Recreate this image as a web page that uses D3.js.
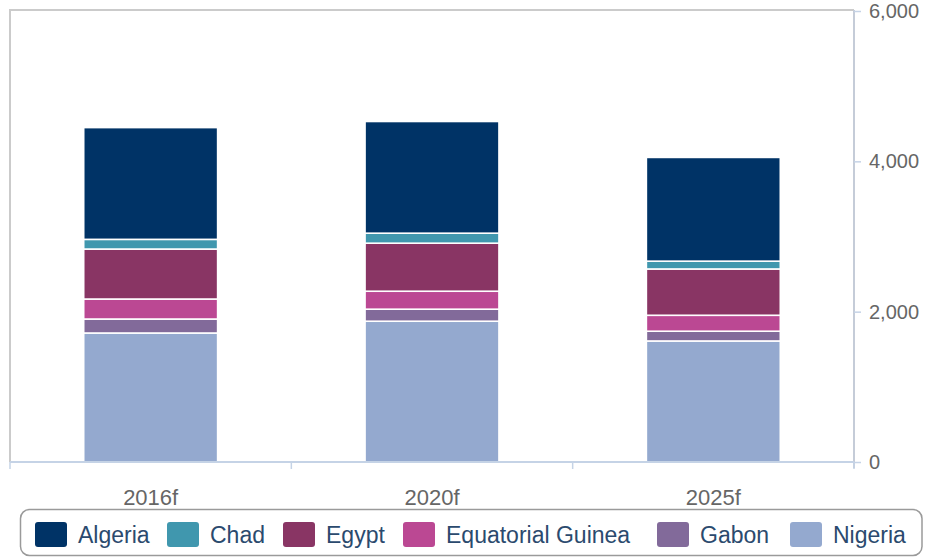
<!DOCTYPE html>
<html>
<head>
<meta charset="utf-8">
<script src="https://cdn.jsdelivr.net/npm/d3@7"></script>
<style>
  html, body { margin: 0; padding: 0; background: #fff; }
  svg { display: block; font-family: "Liberation Sans", Arial, sans-serif; }
</style>
</head>
<body>
<svg id="chart" width="930" height="558"></svg>
<script>
const categories = ["2016f", "2020f", "2025f"];
const seriesNames = ["Nigeria", "Gabon", "Equatorial Guinea", "Egypt", "Chad", "Algeria"];
const nigeria = [1716, 1873, 1610];
const gabon = [186, 160, 130];
const equatorialGuinea = [266, 239, 212];
const egypt = [665, 639, 616];
const chad = [129, 133, 104];
const algeria = [1487, 1486, 1380];
const yTicks = [0, 2000, 4000, 6000];
const legendOrder = ["Algeria", "Chad", "Egypt", "Equatorial Guinea", "Gabon", "Nigeria"];
const colors = {
  "Algeria": "#003366",
  "Chad": "#4097ae",
  "Egypt": "#893564",
  "Equatorial Guinea": "#bb4893",
  "Gabon": "#826a9a",
  "Nigeria": "#94a9cf"
};

const valuesBySeries = {
  "Nigeria": nigeria,
  "Gabon": gabon,
  "Equatorial Guinea": equatorialGuinea,
  "Egypt": egypt,
  "Chad": chad,
  "Algeria": algeria
};
const table = categories.map((c, i) => {
  const row = { category: c };
  seriesNames.forEach(s => row[s] = valuesBySeries[s][i]);
  return row;
});

const svg = d3.select("#chart");
const pLeft = 10, pRight = 854, pTop = 11, pBottom = 462;

const x = d3.scaleBand().domain(categories).range([pLeft, pRight]).padding(0);
const y = d3.scaleLinear().domain([0, 6000]).range([pBottom, pTop]);
const barW = x.step() * 0.476;

// plot frame (top & left)
svg.append("path")
  .attr("d", `M${pLeft},${pBottom} V${pTop - 1} H${pRight}`)
  .attr("fill", "none")
  .attr("stroke", "#cbcbcb")
  .attr("stroke-width", 2);

const stack = d3.stack().keys(seriesNames)(table);

svg.append("g").selectAll("g")
  .data(stack)
  .join("g")
  .attr("fill", d => colors[d.key])
  .selectAll("rect")
  .data(d => d)
  .join("rect")
  .attr("x", d => x(d.data.category) + (x.step() - barW) / 2)
  .attr("width", barW)
  .attr("y", d => y(d[1]))
  .attr("height", d => y(d[0]) - y(d[1]))
  .attr("stroke", "#fff")
  .attr("stroke-width", 1.6);

// right y axis
const yAxis = d3.axisRight(y).tickValues(yTicks).tickSize(7).tickPadding(8)
  .tickFormat(d3.format(","));
const gy = svg.append("g").attr("transform", `translate(${pRight},0)`).call(yAxis);
gy.select(".domain").attr("stroke", "#c5ccd8").attr("stroke-width", 2)
  .attr("d", `M0,${pTop - 1}V${pBottom + 6}`);
gy.selectAll(".tick line").attr("stroke", "#c5d3e6").attr("stroke-width", 1.5);
gy.selectAll(".tick text").attr("fill", "#666").attr("font-size", 20)
  .attr("font-family", "Liberation Sans, Arial, sans-serif");

// bottom x axis
const xEdges = d3.scaleLinear().domain([0, categories.length]).range([pLeft, pRight]);
const gx = svg.append("g").attr("transform", `translate(0,${pBottom})`);
gx.append("line").attr("x1", pLeft).attr("x2", pRight).attr("y1", 0).attr("y2", 0)
  .attr("stroke", "#c5d3e6").attr("stroke-width", 2);
gx.selectAll("line.edge").data(d3.range(categories.length + 1)).join("line")
  .attr("class", "edge")
  .attr("x1", d => xEdges(d)).attr("x2", d => xEdges(d))
  .attr("y1", 0).attr("y2", 7)
  .attr("stroke", "#c5d3e6").attr("stroke-width", 1.5);
gx.selectAll("text").data(categories).join("text")
  .attr("x", d => x(d) + x.bandwidth() / 2)
  .attr("y", 43)
  .attr("text-anchor", "middle")
  .attr("fill", "#666")
  .attr("font-size", 22)
  .text(d => d);

// legend
const lg = svg.append("g");
lg.append("rect")
  .attr("x", 20.5).attr("y", 509.5).attr("width", 901.5).attr("height", 46)
  .attr("rx", 9).attr("fill", "#fff").attr("stroke", "#9a9a9a").attr("stroke-width", 1.5);
const legendX = [35, 167, 283, 403, 657, 790];
legendOrder.forEach((name, i) => {
  const g = lg.append("g").attr("transform", `translate(${legendX[i]},522)`);
  g.append("rect").attr("width", 32).attr("height", 25).attr("rx", 3)
    .attr("fill", colors[name]);
  g.append("text").attr("x", 43).attr("y", 21)
    .attr("fill", "#2b4a6e").attr("font-size", 23).text(name);
});
</script>
</body>
</html>
